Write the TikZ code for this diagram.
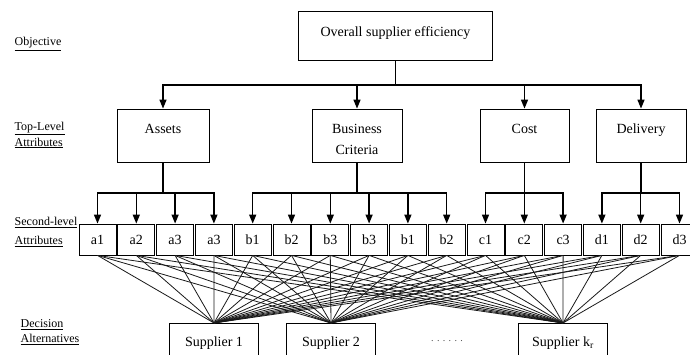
\documentclass[tikz,border=0pt]{standalone}
\usepackage{fontspec}
\setmainfont{Liberation Serif}
\usetikzlibrary{arrows.meta}

\begin{document}
\begin{tikzpicture}
	[x=1pt, y=-1pt, node distance={38.8pt}, line width=1.4pt,
	main/.style = {draw, line width=0.8pt, minimum width=90pt, minimum height=53pt, text height=10pt, text depth=14pt, font=\fontsize{14}{20}\selectfont},
	attr/.style = {draw, line width=0.8pt, minimum width=37pt, minimum height=31pt, inner sep=1pt, font=\fontsize{14}{16}\selectfont},
	alt/.style = {draw, line width=0.8pt, anchor=north, minimum width=89pt, minimum height=40pt, font=\fontsize{14}{16}\selectfont},
	level/.style = {anchor=west, align=left, inner sep=0pt, font=\fontsize{12}{16}\selectfont},
	arr/.style = {-{Triangle[length=9pt, width=7pt]}}]
	\useasboundingbox (0,0) rectangle (690,355);
	% objective
	\node[main, minimum width=194pt, minimum height=49pt, text depth=8pt] (1) at (395.5,35.5) {Overall supplier efficiency};
	% top-level attributes
	\node[main, minimum width=92pt] (2) at (163,135.5) {Assets};
	\node[main] (3) at (357,135.5) {\begin{tabular}[t]{@{}c@{}}Business\\[1pt]Criteria\end{tabular}};
	\node[main, minimum width=89pt] (4) at (524.5,135.5) {Cost};
	\node[main] (5) at (641,135.5) {Delivery};
	% second-level attributes
	\node[attr] (6) at (97.5,239.5) {a1};
	\node[attr] (7) [right of = 6] {a2};
	\node[attr] (8) [right of = 7] {a3};
	\node[attr] (9) [right of = 8] {a3};
	\node[attr] (10) [right of = 9] {b1};
	\node[attr] (11) [right of = 10] {b2};
	\node[attr] (12) [right of = 11] {b3};
	\node[attr] (13) [right of = 12] {b3};
	\node[attr] (14) [right of = 13] {b1};
	\node[attr] (15) [right of = 14] {b2};
	\node[attr] (16) [right of = 15] {c1};
	\node[attr] (17) [right of = 16] {c2};
	\node[attr] (18) [right of = 17] {c3};
	\node[attr] (19) [right of = 18] {d1};
	\node[attr] (20) [right of = 19] {d2};
	\node[attr] (21) [right of = 20] {d3};
	% decision alternatives
	\node[alt] (22) at (214,323) {Supplier 1};
	\node[alt] (23) at (331,323) {Supplier 2};
	\node[alt] (24) at (563,323) {Supplier k\textsubscript{r}};
	\node[text=black!70, font=\fontsize{10}{12}\selectfont] (25) at (447,341) {. . . . . .};
	% level names
	\node[level] (26) at (14,44) {\underline{Objective}};
	\node[level] (27) at (14,135) {\underline{Top-Level}\\\underline{Attributes}};
	\node[level, font=\fontsize{12}{19}\selectfont] (28) at (14,232) {\underline{Second-level}\\\underline{Attributes}};
	\node[level, font=\fontsize{12}{15}\selectfont] (29) at (20,332.5) {\underline{Decision}\\\underline{Alternatives}};
	% tree
	\coordinate (b1) at (0,85);
	\coordinate (b2) at (0,193);
	\foreach \i in {2,...,5}
		\draw[arr] (1.south) |- (\i.north |- b1) -- (\i.north);
	\foreach \i in {6,...,9}
		\draw[arr] (2.south) |- (\i.north |- b2) -- (\i.north);
	\foreach \i in {10,...,15}
		\draw[arr] (3.south) |- (\i.north |- b2) -- (\i.north);
	\foreach \i in {16,17,18}
		\draw[arr] (4.south) |- (\i.north |- b2) -- (\i.north);
	\foreach \i in {19,20,21}
		\draw[arr] (5.south) |- (\i.north |- b2) -- (\i.north);
	% every attribute to every supplier
	\foreach \i in {6,...,21}
		\foreach \j in {22,23,24}
			\draw[line width=0.8pt, black!90] (\i.south) -- (\j.north);
\end{tikzpicture}
\end{document}
